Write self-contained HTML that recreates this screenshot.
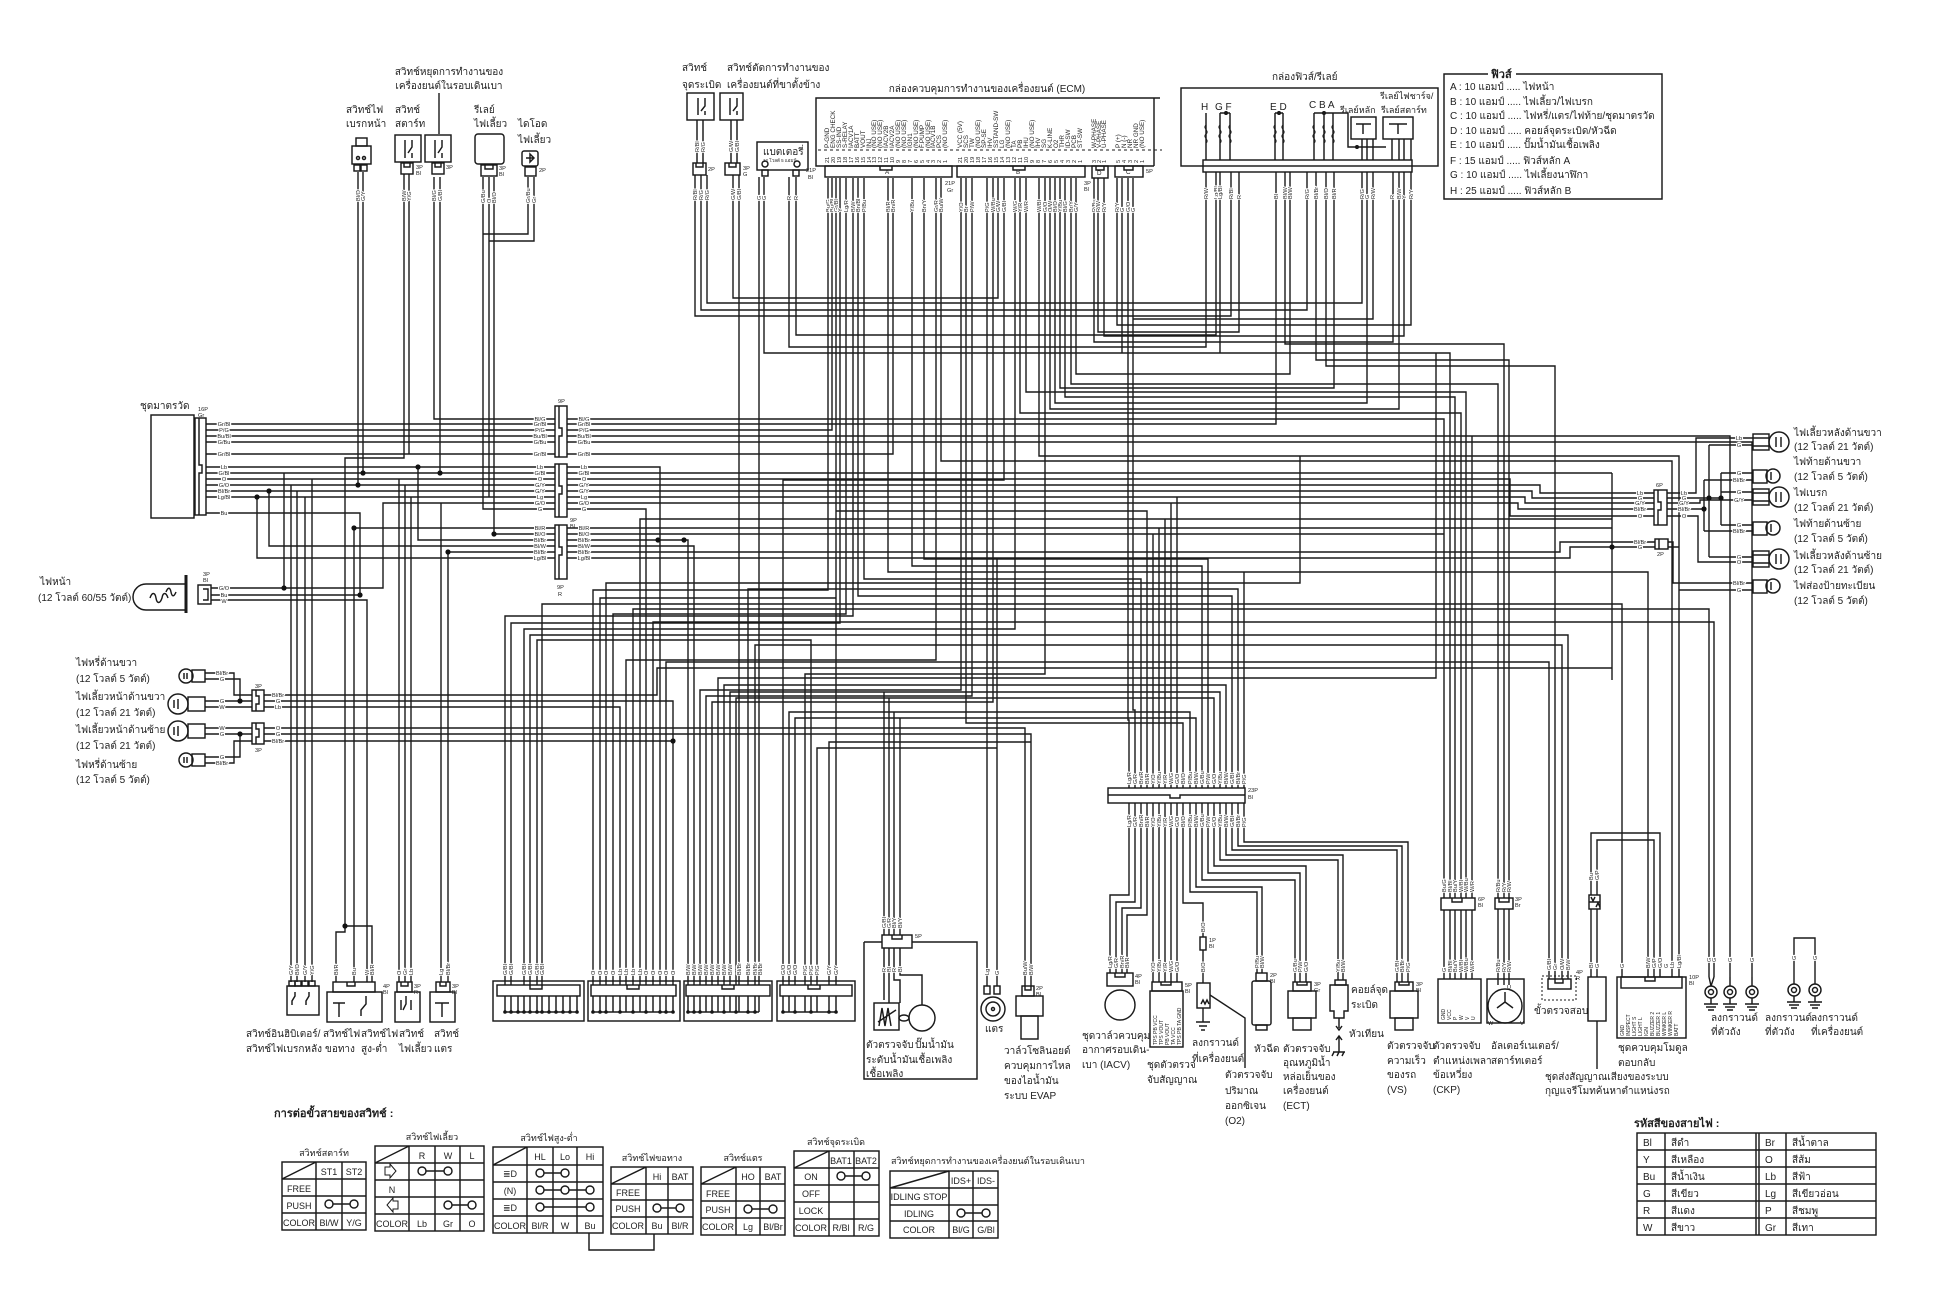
<!DOCTYPE html>
<html><head><meta charset="utf-8">
<style>
html,body{margin:0;padding:0;background:#fff;}
svg{display:block;}
text{font-family:"Liberation Sans","DejaVu Sans",sans-serif;fill:#1e1e1e;}
.t{font-size:10px}
.tb{font-size:11px;font-weight:bold}
.s{font-size:5.6px}
.m{font-size:6.3px}
.n{font-size:9px}
.h{paint-order:stroke;stroke:#fff;stroke-width:2.4px;stroke-linejoin:round}
.w{fill:none;stroke:#1a1a1a;stroke-width:1.4}
.c{fill:none;stroke:#1a1a1a;stroke-width:1.45}
</style></head><body>
<svg width="1946" height="1300" viewBox="0 0 1946 1300" xmlns="http://www.w3.org/2000/svg">
<rect width="1946" height="1300" fill="#fff"/>

<!-- ================= WIRES ================= -->
<path class="w" d="
M358,172V485 M363,172V473
M404,174V458H345V926H372V982 M345,926V932H336V982 M409,174V454
M434,177V419H555 M440,177V473
M483,177V509H555 M489,177V497H555 M494,177V534H555
M528,177V234H483 M534,177V241H489
M206,424H555 M206,430H555 M206,436H555 M206,442H555 M206,454H555
M206,467H555 M206,473H555 M206,479H555 M206,485H555 M206,491H555 M206,497H555
M206,513H360V595
M354,528H555 M418,467V540H555 M269,491V546H555 M448,552H555 M257,497V558H555
M211,588H383V503H555 M211,595H360 M211,600H367V982 M284,473V588
M291,485V982 M297,491V982 M305,497V982 M312,479V982 M354,528V982
M399,479V982 M405,485V982 M411,497V982 M441,503V982 M448,552V982
M264,695H657V668H1612 M264,701H673V985 M264,707H620V985 M264,728H1025V986 M264,734H1031V986 M264,741H673
M205,673H234V695H252 M205,679H240V701 M205,701H252 M205,707H252 M205,728H252 M205,734H252 M205,757H240V734 M205,763H234V741H252
M567,419H1444V898 M567,424H1276V172 M567,430H832V178 M567,436H1730V977 M567,442H1752V977 M567,454H893V178
M567,467H660V985 M567,473H1612 M567,479H1510V516H1630 M567,485H1540V493H1630 M567,491H1532V498H1630
M567,497H1525V503H1630 M567,503H1518V509H1630 M567,509H646V985
M567,528H1612 M567,534H1444 M567,540H688V985 M567,546H694V985 M567,552H1560V542H1630 M567,558H1570V547H1630
M828,178V590H593V985 M836,178V598H600V985 M840,178V623H511V985 M846,178V614H613V985 M853,178V616H505V985
M858,178V596H1232V788 M864,178V579H1141V788 M888,178V572H1648V977 M912,178V566H1202V788 M924,178V559H1208V788
M936,178V660H626V985 M941,178V461H1672V977 M961,178V690H700V985 M966,178V723H1183V788 M972,178V696H706V985
M987,178V986 M993,178V702H712V985 M998,178V298H733V175 M1004,178V480H783V985 M1015,178V629H524V985
M1020,178V413H1461V898 M1026,178V392H1466V898 M1039,178V456H1679V977 M1045,178V674H805V985
M1050,178V409H1399V172 M1055,178V403H1367V172 M1060,178V388H1334V172 M1065,178V397H1455V898
M1071,178V384H1498V898 M1076,178V374H1290V172 M1094,178V342H1393V172 M1098,178V332H1239V172
M1104,178V336H1404V172 M1117,178V325H1411V172 M1122,178V353H1450V898
M1128,178V720H1129V788 M1133,178V710H1135V788 M1133,319H1373V172
M695,175V316H1231V172 M701,175V310H1307V172 M707,175V303H1362V172
M739,175V985 M759,177V985 M764,177V353H1220V172 M789,177V347H1206V172 M796,177V335H1216V172
M1285,172V344H1504V898 M1316,172V360H1509V898 M1326,172V366H1555V979 M1472,436V898
M530,985V635H1568V979 M537,985V640H811V985 M542,985V604H1622V977 M606,985V583H1300V456
M633,985V609H1709V977 M640,985V519H1612 M653,985V622H1714V977 M666,985V662H1549V979
M718,985V678H1436V353 M724,985V685H1226V788 M730,985V692H1220V788 M736,985V698H1214V788
M748,985V589H1238V788 M755,985V645H1562V979 M789,985V712H1190V788 M795,985V718H1196V788
M817,985V748H997 M829,985V742H1031 M836,985V511H1147V788
M884,692V935 M889,698V935 M894,712V935 M900,718V935 M997,559V986
M1153,534V788 M1159,528V788 M1165,519V788 M1171,503V788 M1177,497V788 M1244,572V788
M1129,803V895H1110V973 M1135,803V902H1116V973 M1141,803V908H1122V973 M1147,803V915H1127V973
M1153,803V982 M1159,803V982 M1165,803V982 M1171,803V982 M1177,803V982
M1183,803V903H1203V937
M1190,803V892H1257V973 M1196,803V887H1262V973 M1202,803V880H1295V982 M1208,803V873H1300V982 M1214,803V866H1306V982
M1220,803V860H1338V980 M1226,803V855H1343V980 M1232,803V850H1397V982 M1238,803V846H1402V982 M1244,803V842H1408V982
M1612,473V680
M1630,493H1654 M1630,498H1654 M1630,503H1654 M1630,509H1654 M1630,516H1654 M1630,542H1655 M1630,547H1655
M1667,493H1696V438H1753 M1709,445V557 M1709,445H1753 M1709,557H1753
M1667,498H1721 M1721,473V525 M1721,473H1753 M1721,525H1753
M1667,503H1700V500H1753 M1721,492H1753
M1667,509H1704 M1704,480V531 M1704,480H1753 M1704,531H1753
M1667,516H1698V562H1753
M1668,542H1673V583H1753 M1668,547H1679V590H1753
M1591,895V833H1660V977 M1597,895V840H1654V977 M1591,909V977 M1597,909V977
M1444,910V979 M1450,910V979 M1455,910V979 M1461,910V979 M1466,910V979 M1472,910V979
M1498,909V985 M1504,909V985 M1509,909V985
M1794,962V938H1815V962 M1794,962V984 M1815,962V984
M1203,950V983 M1203,1008V1022 M1210,995L1245,1018V1068
M1597,1021V1069
"/>

<!-- dots -->
<g fill="#111">
<circle cx="358" cy="485" r="2.6"/><circle cx="363" cy="473" r="2.6"/><circle cx="440" cy="473" r="2.6"/>
<circle cx="418" cy="467" r="2.6"/><circle cx="269" cy="491" r="2.6"/><circle cx="257" cy="497" r="2.6"/>
<circle cx="354" cy="528" r="2.6"/><circle cx="494" cy="534" r="2.6"/><circle cx="448" cy="552" r="2.6"/>
<circle cx="284" cy="588" r="2.6"/><circle cx="360" cy="595" r="2.6"/><circle cx="345" cy="926" r="2.6"/>
<circle cx="240" cy="701" r="2.6"/><circle cx="240" cy="734" r="2.6"/><circle cx="673" cy="741" r="2.6"/>
<circle cx="1612" cy="547" r="2.6"/><circle cx="1709" cy="498" r="2.6"/><circle cx="1721" cy="498" r="2.6"/>
<circle cx="1704" cy="509" r="2.6"/><circle cx="658" cy="540" r="2.6"/><circle cx="684" cy="540" r="2.6"/>
<circle cx="1226" cy="113" r="2"/><circle cx="1279" cy="113" r="2"/><circle cx="1324" cy="113" r="2"/><circle cx="1357" cy="147" r="2"/>
</g>

<!-- ================= TOP LEFT COMPONENTS ================= -->
<text class="t" x="449" y="75" text-anchor="middle">สวิทช์หยุดการทำงานของ</text>
<text class="t" x="449" y="89" text-anchor="middle">เครื่องยนต์ในรอบเดินเบา</text>
<path class="w" d="M439,93V134"/>
<text class="t" x="346" y="113">สวิทช์ไฟ</text><text class="t" x="346" y="127">เบรกหน้า</text>
<text class="t" x="395" y="113">สวิทช์</text><text class="t" x="395" y="127">สตาร์ท</text>
<text class="t" x="474" y="113">รีเลย์</text><text class="t" x="474" y="127">ไฟเลี้ยว</text>
<text class="t" x="518" y="127">ไดโอด</text><text class="t" x="518" y="143">ไฟเลี้ยว</text>
<g class="c">
<rect x="356" y="138" width="11" height="8"/><rect x="352" y="146" width="19" height="18"/>
<rect x="354" y="165" width="6" height="6"/><rect x="361" y="165" width="6" height="6"/>
<circle cx="358" cy="158" r="1.5"/><circle cx="364" cy="158" r="1.5"/>
<rect x="395" y="135" width="26" height="27"/><path d="M405,140V158M412,140V147L408,153M412,153V158"/>
<rect x="401" y="163" width="12" height="11"/><path d="M404,163v4h6v-4"/>
<rect x="425" y="135" width="26" height="27"/><path d="M435,140V158M442,140V147L438,153M442,153V158"/>
<rect x="432" y="163" width="12" height="11"/><path d="M435,163v4h6v-4"/>
<rect x="475" y="134" width="29" height="30" rx="3"/>
<rect x="481" y="165" width="16" height="11"/><path d="M485,165v4h8v-4"/>
<rect x="522" y="151" width="16" height="15" rx="2"/><path d="M526,158h8M530,154l4,4l-4,4z"/>
<rect x="525" y="167" width="11" height="9"/>
</g>
<text class="s" x="416" y="169">3P</text><text class="s" x="416" y="175">Bl</text>
<text class="s" x="446" y="169">3P</text>
<text class="s" x="499" y="170">3P</text><text class="s" x="499" y="176">Bl</text>
<text class="s" x="539" y="172">2P</text>
<g class="s h">
<text transform="translate(360,201) rotate(-90)">Bl/O</text><text transform="translate(365,201) rotate(-90)">G/Y</text>
<text transform="translate(406,201) rotate(-90)">B/W</text><text transform="translate(411,201) rotate(-90)">Y/G</text>
<text transform="translate(436,201) rotate(-90)">Bl/G</text><text transform="translate(442,201) rotate(-90)">G/Bl</text>
<text transform="translate(485,203) rotate(-90)">G/Bu</text><text transform="translate(491,203) rotate(-90)">O</text><text transform="translate(496,203) rotate(-90)">Bl/O</text>
<text transform="translate(530,203) rotate(-90)">Gr/Bu</text><text transform="translate(536,203) rotate(-90)">Gr</text>
</g>

<!-- instrument cluster -->
<text class="t" x="140" y="409">ชุดมาตรวัด</text>
<text class="s" x="198" y="411">16P</text><text class="s" x="198" y="417">Gr</text>
<g class="c"><rect x="151" y="415" width="43" height="103"/><rect x="195" y="418" width="11" height="97"/><path d="M199,418V465h3v8h-3v42"/></g>
<g class="s h" text-anchor="middle">
<text x="224" y="426">Gr/Bl</text><text x="224" y="432">P/G</text><text x="224" y="438">Bu/Bl</text><text x="224" y="444">G/Bu</text><text x="224" y="456">Gr/Bl</text>
<text x="224" y="469">Lb</text><text x="224" y="475">G/Bl</text><text x="224" y="481">O</text><text x="224" y="487">G/O</text><text x="224" y="493">Bl/Br</text><text x="224" y="499">Lg/Bl</text><text x="224" y="515">Bu</text>
</g>

<!-- 9P connectors -->
<g class="c">
<rect x="555" y="406" width="12" height="51"/><path d="M559,406V428h3v8h-3v21"/>
<rect x="555" y="464" width="12" height="53"/><path d="M559,464V486h3v8h-3v23"/>
<rect x="555" y="525" width="12" height="54"/><path d="M559,525V547h3v8h-3v24"/>
</g>
<text class="s" x="558" y="403">9P</text><text class="s" x="570" y="522">9P</text><text class="s" x="570" y="528">Bl</text>
<text class="s" x="557" y="589">9P</text><text class="s" x="558" y="596">R</text>
<g class="s h" text-anchor="middle">
<text x="540" y="421">Bl/G</text><text x="540" y="426">Gr/Bl</text><text x="540" y="432">P/G</text><text x="540" y="438">Bu/Bl</text><text x="540" y="444">G/Bu</text><text x="540" y="456">Gr/Bl</text>
<text x="540" y="469">Lb</text><text x="540" y="475">G/Bl</text><text x="540" y="481">O</text><text x="540" y="487">G/Y</text><text x="540" y="493">G/Y</text><text x="540" y="499">Lg</text><text x="540" y="505">G/O</text><text x="540" y="511">G</text>
<text x="540" y="530">Bl/R</text><text x="540" y="536">Bl/O</text><text x="540" y="542">Bl/Br</text><text x="540" y="548">Bl/W</text><text x="540" y="554">Bl/Br</text><text x="540" y="560">Lg/Bl</text>
<text x="584" y="421">Bl/G</text><text x="584" y="426">Gr/Bl</text><text x="584" y="432">P/G</text><text x="584" y="438">Bu/Bl</text><text x="584" y="444">G/Bu</text><text x="584" y="456">Gr/Bl</text>
<text x="584" y="469">Lb</text><text x="584" y="475">G/Bl</text><text x="584" y="481">O</text><text x="584" y="487">G/Y</text><text x="584" y="493">G/Y</text><text x="584" y="499">Lg</text><text x="584" y="505">G/O</text><text x="584" y="511">G</text>
<text x="584" y="530">Bl/R</text><text x="584" y="536">Bl/O</text><text x="584" y="542">Bl/Br</text><text x="584" y="548">Bl/W</text><text x="584" y="554">Bl/Br</text><text x="584" y="560">Lg/Bl</text>
</g>

<!-- headlight -->
<text class="t" x="40" y="585">ไฟหน้า</text>
<text class="t" x="38" y="601">(12 โวลต์ 60/55 วัตต์)</text>
<g class="c">
<path d="M186,584H146a13,13 0 0 0 0,26H186" />
<path d="M150,598c2,-6 5,-6 6,0c1,6 4,6 6,0c1,-6 4,-6 6,0M166,592c2,-5 4,-5 5,0c1,5 3,5 5,0"/>
<path d="M186,575V613" stroke-width="3"/>
<rect x="198" y="585" width="13" height="19"/><path d="M203,589h5v11h-5"/>
</g>
<text class="s" x="203" y="576">3P</text><text class="s" x="203" y="582">Bl</text>
<g class="s h" text-anchor="middle"><text x="224" y="590">G/O</text><text x="224" y="597">Bu</text><text x="224" y="603">W</text></g>

<!-- front turn / position lights -->
<text class="t" x="76" y="666">ไฟหรี่ด้านขวา</text><text class="t" x="76" y="682">(12 โวลต์ 5 วัตต์)</text>
<text class="t" x="76" y="700">ไฟเลี้ยวหน้าด้านขวา</text><text class="t" x="76" y="716">(12 โวลต์ 21 วัตต์)</text>
<text class="t" x="76" y="733">ไฟเลี้ยวหน้าด้านซ้าย</text><text class="t" x="76" y="749">(12 โวลต์ 21 วัตต์)</text>
<text class="t" x="76" y="768">ไฟหรี่ด้านซ้าย</text><text class="t" x="76" y="783">(12 โวลต์ 5 วัตต์)</text>
<g class="c">
<circle cx="186" cy="676" r="7"/><rect x="192" y="670" width="13" height="12"/><path d="M184,673v6M187,673v6"/>
<circle cx="178" cy="704" r="10"/><rect x="188" y="697" width="17" height="14"/><path d="M174,700v8M178,699v10"/>
<circle cx="178" cy="731" r="10"/><rect x="188" y="724" width="17" height="14"/><path d="M174,727v8M178,726v10"/>
<circle cx="186" cy="760" r="7"/><rect x="192" y="754" width="13" height="12"/><path d="M184,757v6M187,757v6"/>
<rect x="252" y="690" width="12" height="21"/><path d="M256,690v6h3v8h-3v7"/>
<rect x="252" y="723" width="12" height="21"/><path d="M256,723v6h3v8h-3v7"/>
</g>
<text class="s" x="255" y="688">3P</text><text class="s" x="255" y="752">3P</text>
<g class="s h" text-anchor="middle">
<text x="222" y="675">Bl/Br</text><text x="222" y="681">G</text><text x="222" y="703">G</text><text x="222" y="709">W</text>
<text x="222" y="730">W</text><text x="222" y="736">G</text><text x="222" y="759">G</text><text x="222" y="765">Bl/Br</text>
<text x="278" y="697">Bl/Br</text><text x="278" y="703">G</text><text x="278" y="709">Lb</text>
<text x="278" y="730">O</text><text x="278" y="736">G</text><text x="278" y="743">Bl/Br</text>
</g>

<!-- ================= ECM AREA ================= -->
<text class="t" x="682" y="71">สวิทช์</text><text class="t" x="682" y="88">จุดระเบิด</text>
<text class="t" x="727" y="71">สวิทช์ตัดการทำงานของ</text><text class="t" x="727" y="88">เครื่องยนต์ที่ขาตั้งข้าง</text>
<g class="c">
<rect x="687" y="93" width="27" height="27"/><path d="M698,98V115M705,98V106L701,111M705,111V115"/>
<path d="M697,120V163M703,120V163"/>
<rect x="693" y="163" width="13" height="12"/><path d="M696,163v4h7v-4"/>
<rect x="720" y="93" width="23" height="27"/><path d="M730,98V115M737,98V106L733,111M737,111V115"/>
<path d="M731,120V163M737,120V163"/>
<rect x="725" y="163" width="15" height="12"/><path d="M729,163v4h7v-4"/>
<rect x="757" y="142" width="51" height="28"/>
<rect x="762" y="170" width="6" height="6"/><rect x="793" y="170" width="6" height="6"/>
<circle cx="765" cy="164" r="3"/><circle cx="797" cy="164" r="3"/>
</g>
<text class="s" x="708" y="171">2P</text><text class="s" x="743" y="170">3P</text><text class="s" x="743" y="176">G</text>
<text x="763" y="155" style="font-size:10px">แบตเตอรี่</text>
<text x="763" y="162" style="font-size:4.5px">12 โวลต์ 5 แอมป์</text>
<g class="s h">
<text transform="translate(699,152) rotate(-90)">R/Bl</text><text transform="translate(705,152) rotate(-90)">R/G</text>
<text transform="translate(733,152) rotate(-90)">G/W</text><text transform="translate(739,152) rotate(-90)">G/Bl</text>
<text transform="translate(697,200) rotate(-90)">R/Bl</text><text transform="translate(703,200) rotate(-90)">R/G</text><text transform="translate(709,200) rotate(-90)">R/G</text>
<text transform="translate(735,200) rotate(-90)">G/W</text><text transform="translate(741,200) rotate(-90)">G/Bl</text>
<text transform="translate(761,200) rotate(-90)">G</text><text transform="translate(766,200) rotate(-90)">G</text>
<text transform="translate(791,200) rotate(-90)">R</text><text transform="translate(798,200) rotate(-90)">R</text>
</g>

<text class="t" x="987" y="92" text-anchor="middle">กล่องควบคุมการทำงานของเครื่องยนต์ (ECM)</text>
<g class="c">
<path d="M1160,98H816V166H1154"/><path d="M1154,98V166" />
<path d="M818,150H1162" stroke-dasharray="3,3" stroke-width="1"/>
<rect x="825" y="166" width="127" height="11"/><path d="M880,166v4h12v-4"/>
<rect x="957" y="166" width="128" height="11"/><path d="M1013,166v4h12v-4"/>
<rect x="1092" y="166" width="16" height="12"/><path d="M1096,166v4h8v-4"/>
<rect x="1115" y="166" width="28" height="11"/><path d="M1124,166v4h9v-4"/>
</g>
<text class="s" x="806" y="172">21P</text><text class="s" x="808" y="179">Bl</text>
<text class="s" x="945" y="185">21P</text><text class="s" x="947" y="192">Gr</text>
<text class="s" x="1084" y="185">3P</text><text class="s" x="1084" y="191">Bl</text>
<text class="s" x="1146" y="173">5P</text>
<text class="m" x="885" y="174">A</text><text class="m" x="1016" y="174">B</text><text class="m" x="1097" y="175">D</text><text class="m" x="1126" y="174">C</text>

<!-- ECM pin names -->
<g class="m">
<text transform="translate(829,148) rotate(-90)">P-GND</text>
<text transform="translate(835,148) rotate(-90)">ENG CHECK</text>
<text transform="translate(841,148) rotate(-90)">SS-IND</text>
<text transform="translate(847,148) rotate(-90)">S-RELAY</text>
<text transform="translate(853,148) rotate(-90)">IACV1A</text>
<text transform="translate(859,148) rotate(-90)">BATT</text>
<text transform="translate(865,148) rotate(-90)">VOUT</text>
<text transform="translate(871,148) rotate(-90)">INJ</text>
<text transform="translate(876,148) rotate(-90)">(NO USE)</text>
<text transform="translate(882,148) rotate(-90)">(NO USE)</text>
<text transform="translate(888,148) rotate(-90)">IACV2B</text>
<text transform="translate(894,148) rotate(-90)">IACV2A</text>
<text transform="translate(900,148) rotate(-90)">(NO USE)</text>
<text transform="translate(906,148) rotate(-90)">(NO USE)</text>
<text transform="translate(912,148) rotate(-90)">IGN1</text>
<text transform="translate(918,148) rotate(-90)">(NO USE)</text>
<text transform="translate(924,148) rotate(-90)">F.PUMP</text>
<text transform="translate(930,148) rotate(-90)">(NO USE)</text>
<text transform="translate(935,148) rotate(-90)">IACV1B</text>
<text transform="translate(941,148) rotate(-90)">PCS</text>
<text transform="translate(947,148) rotate(-90)">(NO USE)</text>
<text transform="translate(962,148) rotate(-90)">VCC (5V)</text>
<text transform="translate(968,148) rotate(-90)">SCS</text>
<text transform="translate(974,148) rotate(-90)">TW</text>
<text transform="translate(980,148) rotate(-90)">(NO USE)</text>
<text transform="translate(986,148) rotate(-90)">SP-SE</text>
<text transform="translate(992,148) rotate(-90)">IHV</text>
<text transform="translate(998,148) rotate(-90)">SSTAND-SW</text>
<text transform="translate(1004,148) rotate(-90)">LG</text>
<text transform="translate(1010,148) rotate(-90)">(NO USE)</text>
<text transform="translate(1016,148) rotate(-90)">TA</text>
<text transform="translate(1022,148) rotate(-90)">PB</text>
<text transform="translate(1028,148) rotate(-90)">IHU</text>
<text transform="translate(1034,148) rotate(-90)">(NO USE)</text>
<text transform="translate(1040,148) rotate(-90)">IHV</text>
<text transform="translate(1046,148) rotate(-90)">SG</text>
<text transform="translate(1052,148) rotate(-90)">K-LINE</text>
<text transform="translate(1058,148) rotate(-90)">O2</text>
<text transform="translate(1064,148) rotate(-90)">THR</text>
<text transform="translate(1070,148) rotate(-90)">ID-SW</text>
<text transform="translate(1076,148) rotate(-90)">PCB</text>
<text transform="translate(1082,148) rotate(-90)">ST-SW</text>
<text transform="translate(1096,148) rotate(-90)">W-PHASE</text>
<text transform="translate(1101,148) rotate(-90)">V-PHASE</text>
<text transform="translate(1106,148) rotate(-90)">U-PHASE</text>
<text transform="translate(1120,148) rotate(-90)">P (+)</text>
<text transform="translate(1126,148) rotate(-90)">N (-)</text>
<text transform="translate(1132,148) rotate(-90)">NR</text>
<text transform="translate(1138,148) rotate(-90)">NR GND</text>
<text transform="translate(1144,148) rotate(-90)">(NO USE)</text>
</g>
<g class="s">
<text transform="translate(829,163) rotate(-90)">21</text><text transform="translate(835,163) rotate(-90)">20</text><text transform="translate(841,163) rotate(-90)">19</text><text transform="translate(847,163) rotate(-90)">18</text><text transform="translate(853,163) rotate(-90)">17</text><text transform="translate(859,163) rotate(-90)">16</text><text transform="translate(865,163) rotate(-90)">15</text><text transform="translate(871,163) rotate(-90)">14</text><text transform="translate(876,163) rotate(-90)">13</text><text transform="translate(882,163) rotate(-90)">12</text><text transform="translate(888,163) rotate(-90)">11</text><text transform="translate(894,163) rotate(-90)">10</text><text transform="translate(900,163) rotate(-90)">9</text><text transform="translate(906,163) rotate(-90)">8</text><text transform="translate(912,163) rotate(-90)">7</text><text transform="translate(918,163) rotate(-90)">6</text><text transform="translate(924,163) rotate(-90)">5</text><text transform="translate(930,163) rotate(-90)">4</text><text transform="translate(935,163) rotate(-90)">3</text><text transform="translate(941,163) rotate(-90)">2</text><text transform="translate(947,163) rotate(-90)">1</text>
<text transform="translate(962,163) rotate(-90)">21</text><text transform="translate(968,163) rotate(-90)">20</text><text transform="translate(974,163) rotate(-90)">19</text><text transform="translate(980,163) rotate(-90)">18</text><text transform="translate(986,163) rotate(-90)">17</text><text transform="translate(992,163) rotate(-90)">16</text><text transform="translate(998,163) rotate(-90)">15</text><text transform="translate(1004,163) rotate(-90)">14</text><text transform="translate(1010,163) rotate(-90)">13</text><text transform="translate(1016,163) rotate(-90)">12</text><text transform="translate(1022,163) rotate(-90)">11</text><text transform="translate(1028,163) rotate(-90)">10</text><text transform="translate(1034,163) rotate(-90)">9</text><text transform="translate(1040,163) rotate(-90)">8</text><text transform="translate(1046,163) rotate(-90)">7</text><text transform="translate(1052,163) rotate(-90)">6</text><text transform="translate(1058,163) rotate(-90)">5</text><text transform="translate(1064,163) rotate(-90)">4</text><text transform="translate(1070,163) rotate(-90)">3</text><text transform="translate(1076,163) rotate(-90)">2</text><text transform="translate(1082,163) rotate(-90)">1</text>
<text transform="translate(1096,163) rotate(-90)">3</text><text transform="translate(1101,163) rotate(-90)">2</text><text transform="translate(1106,163) rotate(-90)">1</text>
<text transform="translate(1120,163) rotate(-90)">5</text><text transform="translate(1126,163) rotate(-90)">4</text><text transform="translate(1132,163) rotate(-90)">3</text><text transform="translate(1138,163) rotate(-90)">2</text><text transform="translate(1144,163) rotate(-90)">1</text>
</g>
<!-- ECM wire labels -->
<g class="s h">
<text transform="translate(830,212) rotate(-90)">Bu/G</text><text transform="translate(834,212) rotate(-90)">Bu/Bl</text><text transform="translate(838,212) rotate(-90)">Gr/Bl</text><text transform="translate(842,212) rotate(-90)">Y</text><text transform="translate(848,212) rotate(-90)">Lg/R</text><text transform="translate(855,212) rotate(-90)">B/W</text><text transform="translate(860,212) rotate(-90)">Bn/Bl</text><text transform="translate(866,212) rotate(-90)">P/Bu</text>
<text transform="translate(890,212) rotate(-90)">Bl/R</text><text transform="translate(895,212) rotate(-90)">Bn/R</text><text transform="translate(914,212) rotate(-90)">Y/Bu</text><text transform="translate(926,212) rotate(-90)">Bn/Y</text><text transform="translate(938,212) rotate(-90)">Gr/R</text><text transform="translate(943,212) rotate(-90)">Bu/W</text>
<text transform="translate(963,212) rotate(-90)">Y/O</text><text transform="translate(968,212) rotate(-90)">Br</text><text transform="translate(974,212) rotate(-90)">P/W</text>
<text transform="translate(989,212) rotate(-90)">P/G</text><text transform="translate(995,212) rotate(-90)">W/Bu</text><text transform="translate(1000,212) rotate(-90)">G/W</text><text transform="translate(1006,212) rotate(-90)">G/Bl</text>
<text transform="translate(1017,212) rotate(-90)">W/G</text><text transform="translate(1022,212) rotate(-90)">Y/R</text><text transform="translate(1028,212) rotate(-90)">W/R</text>
<text transform="translate(1041,212) rotate(-90)">W/Bl</text><text transform="translate(1047,212) rotate(-90)">G/O</text><text transform="translate(1052,212) rotate(-90)">O/W</text><text transform="translate(1057,212) rotate(-90)">Bl/O</text><text transform="translate(1062,212) rotate(-90)">Y/Bu</text><text transform="translate(1067,212) rotate(-90)">Bl/G</text><text transform="translate(1073,212) rotate(-90)">Br/Y</text><text transform="translate(1078,212) rotate(-90)">G/Y</text>
<text transform="translate(1096,212) rotate(-90)">R/Bu</text><text transform="translate(1100,212) rotate(-90)">R/W</text><text transform="translate(1106,212) rotate(-90)">R/Y</text>
<text transform="translate(1119,212) rotate(-90)">R/Y</text><text transform="translate(1124,212) rotate(-90)">G</text><text transform="translate(1130,212) rotate(-90)">G/O</text><text transform="translate(1135,212) rotate(-90)">G</text>
</g>

<!-- ================= FUSE BOX ================= -->
<text class="t" x="1272" y="80">กล่องฟิวส์/รีเลย์</text>
<g class="c">
<rect x="1181" y="88" width="257" height="78"/>
<rect x="1203" y="160" width="209" height="12"/>
<path d="M1206,113V160M1220,113V160M1230,113V160M1220,113H1230M1275,113V160M1283,113V160M1275,113H1283M1314,113V160M1324,113V160M1333,113V160M1314,113H1348V147H1386M1362,139V160M1367,139V160M1373,139V160M1392,139V160M1399,139V160M1404,139V160M1411,139V160"/>
<rect x="1351" y="117" width="25" height="22"/><rect x="1383" y="117" width="30" height="22"/>
<path d="M1356,124h15M1363,124v10M1389,124h18M1398,124v10"/>
</g>
<path d="M1206,125c-4,3 4,6 0,9c-4,3 4,6 0,9M1220,125c-4,3 4,6 0,9c-4,3 4,6 0,9M1230,125c-4,3 4,6 0,9c-4,3 4,6 0,9M1275,125c-4,3 4,6 0,9c-4,3 4,6 0,9M1283,125c-4,3 4,6 0,9c-4,3 4,6 0,9M1314,125c-4,3 4,6 0,9c-4,3 4,6 0,9M1324,125c-4,3 4,6 0,9c-4,3 4,6 0,9M1333,125c-4,3 4,6 0,9c-4,3 4,6 0,9" fill="none" stroke="#1c1c1c" stroke-width="1"/>
<text class="t" x="1201" y="110">H</text><text class="t" x="1215" y="110">G F</text>
<text class="t" x="1270" y="110">E D</text><text class="t" x="1309" y="108">C B A</text>
<text class="n" x="1380" y="99">รีเลย์ไฟชาร์จ/</text>
<text class="n" x="1340" y="113">รีเลย์หลัก</text><text class="n" x="1381" y="113">รีเลย์สตาร์ท</text>
<g class="s h">
<text transform="translate(1208,199) rotate(-90)">R/W</text><text transform="translate(1218,199) rotate(-90)">Lg/Bl</text><text transform="translate(1222,199) rotate(-90)">Lg/Bl</text><text transform="translate(1233,199) rotate(-90)">R/Bl</text><text transform="translate(1241,199) rotate(-90)">R</text>
<text transform="translate(1278,199) rotate(-90)">Bl</text><text transform="translate(1287,199) rotate(-90)">Bl/W</text><text transform="translate(1292,199) rotate(-90)">Bl/W</text>
<text transform="translate(1309,199) rotate(-90)">R/G</text><text transform="translate(1318,199) rotate(-90)">Bl/Br</text><text transform="translate(1328,199) rotate(-90)">Bl/O</text><text transform="translate(1336,199) rotate(-90)">Bl/R</text>
<text transform="translate(1364,199) rotate(-90)">R/G</text><text transform="translate(1369,199) rotate(-90)">G</text><text transform="translate(1375,199) rotate(-90)">R/W</text>
<text transform="translate(1394,199) rotate(-90)">R</text><text transform="translate(1401,199) rotate(-90)">B/W</text><text transform="translate(1406,199) rotate(-90)">Y</text><text transform="translate(1413,199) rotate(-90)">R/Y</text>
</g>

<!-- fuse legend -->
<path class="c" d="M1488,74H1444V199H1662V74H1516" stroke-width="1.1"/>
<text class="tb" x="1491" y="78">ฟิวส์</text>
<g class="t">
<text x="1450" y="90">A : 10 แอมป์ ..... ไฟหน้า</text>
<text x="1450" y="105">B : 10 แอมป์ ..... ไฟเลี้ยว/ไฟเบรก</text>
<text x="1450" y="119">C : 10 แอมป์ ..... ไฟหรี่/แตร/ไฟท้าย/ชุดมาตรวัด</text>
<text x="1450" y="134">D : 10 แอมป์ ..... คอยล์จุดระเบิด/หัวฉีด</text>
<text x="1450" y="148">E : 10 แอมป์ ..... ปั๊มน้ำมันเชื้อเพลิง</text>
<text x="1450" y="164">F : 15 แอมป์ ..... ฟิวส์หลัก A</text>
<text x="1450" y="178">G : 10 แอมป์ ..... ไฟเลี้ยงนาฬิกา</text>
<text x="1450" y="194">H : 25 แอมป์ ..... ฟิวส์หลัก B</text>
</g>

<!-- ================= REAR LIGHTS ================= -->
<g class="c">
<rect x="1654" y="490" width="13" height="35"/><path d="M1658,490v12h3v8h-3v15"/>
<rect x="1655" y="539" width="13" height="10"/><path d="M1659,539v10"/>
<rect x="1753" y="434" width="16" height="16"/><circle cx="1779" cy="442" r="10"/><path d="M1753,438h16M1753,446h16M1776,437v10M1781,437v10"/>
<rect x="1753" y="470" width="14" height="13"/><circle cx="1773" cy="476" r="7"/><path d="M1771,472v8"/>
<rect x="1753" y="489" width="16" height="16"/><circle cx="1779" cy="497" r="10"/><path d="M1753,493h16M1753,501h16M1776,492v10M1781,492v10"/>
<rect x="1753" y="522" width="14" height="13"/><circle cx="1773" cy="528" r="7"/><path d="M1771,524v8"/>
<rect x="1753" y="551" width="16" height="16"/><circle cx="1779" cy="559" r="10"/><path d="M1753,555h16M1753,563h16M1776,554v10M1781,554v10"/>
<rect x="1753" y="580" width="14" height="13"/><circle cx="1773" cy="586" r="7"/><path d="M1771,582v8"/>
</g>
<text class="s" x="1656" y="487">6P</text><text class="s" x="1657" y="556">2P</text>
<g class="s h" text-anchor="middle">
<text x="1640" y="495">Lb</text><text x="1640" y="500">G</text><text x="1640" y="505">G/Y</text><text x="1640" y="511">Bl/Br</text><text x="1640" y="518">O</text>
<text x="1640" y="544">Bl/Br</text><text x="1640" y="549">G</text>
<text x="1684" y="495">Lb</text><text x="1684" y="500">G</text><text x="1684" y="505">G/Y</text><text x="1684" y="511">Bl/Br</text><text x="1684" y="518">O</text>
<text x="1739" y="440">Lb</text><text x="1739" y="447">G</text><text x="1739" y="475">G</text><text x="1739" y="482">Bl/Br</text>
<text x="1739" y="494">G</text><text x="1739" y="502">G/Y</text><text x="1739" y="527">G</text><text x="1739" y="533">Bl/Br</text>
<text x="1739" y="559">G</text><text x="1739" y="564">O</text><text x="1739" y="585">Bl/Br</text><text x="1739" y="592">G</text>
</g>
<g class="t">
<text x="1794" y="436">ไฟเลี้ยวหลังด้านขวา</text><text x="1794" y="450">(12 โวลต์ 21 วัตต์)</text>
<text x="1794" y="465">ไฟท้ายด้านขวา</text><text x="1794" y="480">(12 โวลต์ 5 วัตต์)</text>
<text x="1794" y="496">ไฟเบรก</text><text x="1794" y="511">(12 โวลต์ 21 วัตต์)</text>
<text x="1794" y="527">ไฟท้ายด้านซ้าย</text><text x="1794" y="542">(12 โวลต์ 5 วัตต์)</text>
<text x="1794" y="559">ไฟเลี้ยวหลังด้านซ้าย</text><text x="1794" y="573">(12 โวลต์ 21 วัตต์)</text>
<text x="1794" y="589">ไฟส่องป้ายทะเบียน</text><text x="1794" y="604">(12 โวลต์ 5 วัตต์)</text>
</g>

<!-- ================= 23P ================= -->
<g class="c"><rect x="1108" y="788" width="137" height="15"/><path d="M1108,795H1170v3h10v-3H1245"/></g>
<text class="s" x="1248" y="792">23P</text><text class="s" x="1248" y="799">Bl</text>
<g class="s h">
<text transform="translate(1131,784) rotate(-90)">Lg/R</text><text transform="translate(1137,784) rotate(-90)">G/R</text><text transform="translate(1143,784) rotate(-90)">Bn/R</text><text transform="translate(1149,784) rotate(-90)">Bl/R</text><text transform="translate(1155,784) rotate(-90)">Y/O</text><text transform="translate(1161,784) rotate(-90)">Y/Bu</text><text transform="translate(1167,784) rotate(-90)">Y/R</text><text transform="translate(1173,784) rotate(-90)">W/G</text><text transform="translate(1179,784) rotate(-90)">G/O</text><text transform="translate(1185,784) rotate(-90)">Bl/O</text><text transform="translate(1192,784) rotate(-90)">P/Bu</text><text transform="translate(1198,784) rotate(-90)">Bl/W</text><text transform="translate(1204,784) rotate(-90)">G/Bu</text><text transform="translate(1210,784) rotate(-90)">P/W</text><text transform="translate(1216,784) rotate(-90)">G/O</text><text transform="translate(1222,784) rotate(-90)">Y/Bu</text><text transform="translate(1228,784) rotate(-90)">Bl/W</text><text transform="translate(1234,784) rotate(-90)">G/Bl</text><text transform="translate(1240,784) rotate(-90)">Bl/Br</text><text transform="translate(1246,784) rotate(-90)">P/G</text>
<text transform="translate(1131,827) rotate(-90)">Lg/R</text><text transform="translate(1137,827) rotate(-90)">G/R</text><text transform="translate(1143,827) rotate(-90)">Bn/R</text><text transform="translate(1149,827) rotate(-90)">Bl/R</text><text transform="translate(1155,827) rotate(-90)">Y/O</text><text transform="translate(1161,827) rotate(-90)">Y/Bu</text><text transform="translate(1167,827) rotate(-90)">Y/R</text><text transform="translate(1173,827) rotate(-90)">W/G</text><text transform="translate(1179,827) rotate(-90)">G/O</text><text transform="translate(1185,827) rotate(-90)">Bl/O</text><text transform="translate(1192,827) rotate(-90)">P/Bu</text><text transform="translate(1198,827) rotate(-90)">Bl/W</text><text transform="translate(1204,827) rotate(-90)">G/Bu</text><text transform="translate(1210,827) rotate(-90)">P/W</text><text transform="translate(1216,827) rotate(-90)">G/O</text><text transform="translate(1222,827) rotate(-90)">Y/Bu</text><text transform="translate(1228,827) rotate(-90)">Bl/W</text><text transform="translate(1234,827) rotate(-90)">G/Bl</text><text transform="translate(1240,827) rotate(-90)">Bl/Br</text><text transform="translate(1246,827) rotate(-90)">P/G</text>
</g>

<!-- ================= BOTTOM LEFT SWITCHES ================= -->
<g class="c">
<rect x="289" y="981" width="6" height="5"/><rect x="295" y="981" width="6" height="5"/><rect x="302" y="981" width="6" height="5"/><rect x="309" y="981" width="6" height="5"/>
<rect x="287" y="986" width="32" height="29"/><path d="M295,992v4l-3,5v4M309,992v4l-3,5v4"/>
<rect x="333" y="982" width="42" height="10"/><path d="M347,982v4h8v-4"/>
<rect x="327" y="992" width="55" height="30"/><path d="M333,1003h12M339,1003v14M366,996v8l-5,6v6"/>
<rect x="397" y="982" width="15" height="10"/><path d="M401,982v4h7v-4"/>
<rect x="395" y="992" width="25" height="30"/><path d="M401,1000v10M406,996v8l-3,6M411,1000v10"/>
<rect x="436" y="982" width="14" height="10"/><path d="M440,982v4h6v-4"/>
<rect x="430" y="992" width="25" height="30"/><path d="M435,1003h14M442,1003v14"/>
</g>
<text class="s" x="383" y="988">4P</text><text class="s" x="383" y="994">Bl</text>
<text class="s" x="414" y="988">3P</text><text class="s" x="414" y="994">R</text>
<text class="s" x="452" y="988">3P</text><text class="s" x="452" y="994">Bl</text>
<g class="s h">
<text transform="translate(293,975) rotate(-90)">G/Y</text><text transform="translate(299,975) rotate(-90)">Bl/O</text><text transform="translate(307,975) rotate(-90)">G/Y</text><text transform="translate(314,975) rotate(-90)">Y/G</text>
<text transform="translate(338,975) rotate(-90)">Bl/R</text><text transform="translate(356,975) rotate(-90)">Bu</text><text transform="translate(369,975) rotate(-90)">W</text><text transform="translate(374,975) rotate(-90)">Bl/R</text>
<text transform="translate(401,975) rotate(-90)">O</text><text transform="translate(407,975) rotate(-90)">Gr</text><text transform="translate(413,975) rotate(-90)">Lb</text>
<text transform="translate(443,975) rotate(-90)">Lg</text><text transform="translate(450,975) rotate(-90)">Bl/Br</text>
</g>
<g class="t">
<text x="246" y="1037">สวิทช์อินฮิบิเตอร์/</text><text x="246" y="1052">สวิทช์ไฟเบรกหลัง</text>
<text x="323" y="1037">สวิทช์ไฟ</text><text x="325" y="1052">ขอทาง</text>
<text x="361" y="1037">สวิทช์ไฟ</text><text x="361" y="1052">สูง-ต่ำ</text>
<text x="399" y="1037">สวิทช์</text><text x="399" y="1052">ไฟเลี้ยว</text>
<text x="434" y="1037">สวิทช์</text><text x="434" y="1052">แตร</text>
</g>

<!-- joint connectors -->
<g class="c">
<rect x="493" y="981" width="91" height="40"/><rect x="497" y="985" width="83" height="11"/><path d="M530,985v4h12v-4"/>
<path d="M505,996v16M511,996v16M518,996v16M524,996v16M530,996v16M537,996v16M542,996v16M549,996v16M556,996v16M563,996v16M570,996v16M577,996v16"/>
<rect x="588" y="981" width="92" height="40"/><rect x="591" y="985" width="85" height="11"/><path d="M627,985v4h12v-4"/>
<path d="M593,996v16M600,996v16M606,996v16M613,996v16M620,996v16M626,996v16M633,996v16M640,996v16M646,996v16M653,996v16M660,996v16M666,996v16M673,996v16"/>
<rect x="684" y="981" width="88" height="40"/><rect x="686" y="985" width="84" height="11"/><path d="M722,985v4h12v-4"/>
<path d="M688,996v16M694,996v16M700,996v16M706,996v16M712,996v16M718,996v16M724,996v16M730,996v16M736,996v16M739,996v16M748,996v16M755,996v16M759,996v16"/>
<rect x="777" y="981" width="78" height="40"/><rect x="780" y="985" width="72" height="11"/><path d="M808,985v4h12v-4"/>
<path d="M783,996v16M789,996v16M795,996v16M805,996v16M811,996v16M817,996v16M829,996v16M836,996v16"/>
</g>
<g fill="#111">
<circle cx="505" cy="1012" r="1.8"/><circle cx="511" cy="1012" r="1.8"/><circle cx="518" cy="1012" r="1.8"/><circle cx="524" cy="1012" r="1.8"/><circle cx="530" cy="1012" r="1.8"/><circle cx="537" cy="1012" r="1.8"/><circle cx="542" cy="1012" r="1.8"/><circle cx="549" cy="1012" r="1.8"/><circle cx="556" cy="1012" r="1.8"/><circle cx="563" cy="1012" r="1.8"/><circle cx="570" cy="1012" r="1.8"/><circle cx="577" cy="1012" r="1.8"/>
<circle cx="593" cy="1012" r="1.8"/><circle cx="600" cy="1012" r="1.8"/><circle cx="606" cy="1012" r="1.8"/><circle cx="620" cy="1012" r="1.8"/><circle cx="633" cy="1012" r="1.8"/><circle cx="646" cy="1012" r="1.8"/><circle cx="660" cy="1012" r="1.8"/><circle cx="666" cy="1012" r="1.8"/><circle cx="673" cy="1012" r="1.8"/>
<circle cx="688" cy="1012" r="1.8"/><circle cx="694" cy="1012" r="1.8"/><circle cx="700" cy="1012" r="1.8"/><circle cx="712" cy="1012" r="1.8"/><circle cx="724" cy="1012" r="1.8"/><circle cx="736" cy="1012" r="1.8"/><circle cx="748" cy="1012" r="1.8"/><circle cx="755" cy="1012" r="1.8"/>
<circle cx="783" cy="1012" r="1.8"/><circle cx="795" cy="1012" r="1.8"/><circle cx="811" cy="1012" r="1.8"/><circle cx="829" cy="1012" r="1.8"/><circle cx="836" cy="1012" r="1.8"/>
</g>
<path class="w" d="M505,1012H577M593,1012H673M688,1012H759M783,1012H836" stroke-width="1"/>
<g class="s h">
<text transform="translate(507,975) rotate(-90)">G/Bl</text><text transform="translate(513,975) rotate(-90)">G/Bl</text><text transform="translate(526,975) rotate(-90)">G/Bl</text><text transform="translate(532,975) rotate(-90)">G/Bl</text><text transform="translate(539,975) rotate(-90)">G/Bl</text><text transform="translate(544,975) rotate(-90)">G/Bl</text>
<text transform="translate(595,975) rotate(-90)">O</text><text transform="translate(602,975) rotate(-90)">O</text><text transform="translate(608,975) rotate(-90)">O</text><text transform="translate(615,975) rotate(-90)">O</text><text transform="translate(622,975) rotate(-90)">Lb</text><text transform="translate(628,975) rotate(-90)">Lb</text><text transform="translate(635,975) rotate(-90)">Lb</text><text transform="translate(642,975) rotate(-90)">Lb</text><text transform="translate(648,975) rotate(-90)">O</text><text transform="translate(655,975) rotate(-90)">O</text><text transform="translate(662,975) rotate(-90)">O</text><text transform="translate(668,975) rotate(-90)">O</text><text transform="translate(675,975) rotate(-90)">O</text>
<text transform="translate(690,975) rotate(-90)">B/W</text><text transform="translate(696,975) rotate(-90)">B/W</text><text transform="translate(702,975) rotate(-90)">B/W</text><text transform="translate(708,975) rotate(-90)">B/W</text><text transform="translate(714,975) rotate(-90)">B/W</text><text transform="translate(720,975) rotate(-90)">B/W</text><text transform="translate(726,975) rotate(-90)">B/W</text><text transform="translate(732,975) rotate(-90)">B/W</text><text transform="translate(741,975) rotate(-90)">Bl/Br</text><text transform="translate(750,975) rotate(-90)">Bl/Br</text><text transform="translate(757,975) rotate(-90)">Bl/Br</text><text transform="translate(762,975) rotate(-90)">Bl/Br</text>
<text transform="translate(785,975) rotate(-90)">G/O</text><text transform="translate(791,975) rotate(-90)">G/O</text><text transform="translate(797,975) rotate(-90)">G/O</text><text transform="translate(807,975) rotate(-90)">P/G</text><text transform="translate(813,975) rotate(-90)">P/G</text><text transform="translate(819,975) rotate(-90)">P/G</text><text transform="translate(831,975) rotate(-90)">G/Y</text><text transform="translate(838,975) rotate(-90)">G/Y</text>
</g>

<!-- ================= FUEL PUMP / HORN / EVAP ================= -->
<g class="c">
<path d="M864,942H882M912,942H977V1079H864V942"/>
<rect x="882" y="935" width="30" height="13"/><path d="M892,935v4h10v-4"/>
<path d="M884,948V1000M889,948V1003M894,948V980H900V1003M900,948V975H922V1005"/>
<rect x="874" y="1003" width="25" height="27"/><path d="M879,1026l3,-18l3,18l3,-18l3,18M878,1022L896,1010"/>
<circle cx="922" cy="1018" r="13"/><ellipse cx="904" cy="1018" rx="5" ry="3"/>
<rect x="984" y="986" width="6" height="8"/><rect x="994" y="986" width="6" height="8"/>
<circle cx="993" cy="1009" r="12"/><circle cx="993" cy="1009" r="7"/><circle cx="993" cy="1009" r="1.5"/>
<rect x="1022" y="986" width="12" height="10"/><path d="M1025,986v4h6v-4"/>
<rect x="1016" y="996" width="27" height="20"/><rect x="1021" y="1016" width="17" height="23"/>
</g>
<text class="s" x="915" y="938">5P</text>
<text class="s" x="1036" y="990">2P</text><text class="s" x="1036" y="996">Bl</text>
<g class="s h">
<text transform="translate(886,928) rotate(-90)">G/Bl</text><text transform="translate(891,928) rotate(-90)">G/R</text><text transform="translate(896,928) rotate(-90)">Bl/Y</text><text transform="translate(902,928) rotate(-90)">Bl/Y</text>
<text transform="translate(886,972) rotate(-90)">R</text><text transform="translate(891,972) rotate(-90)">Bl</text><text transform="translate(896,972) rotate(-90)">R</text><text transform="translate(902,972) rotate(-90)">Bl</text>
<text transform="translate(989,975) rotate(-90)">Lg</text><text transform="translate(999,975) rotate(-90)">G</text>
<text transform="translate(1027,975) rotate(-90)">Bu/W</text><text transform="translate(1033,975) rotate(-90)">B/W</text>
</g>
<g class="t">
<text x="866" y="1048">ตัวตรวจจับ</text><text x="866" y="1063">ระดับน้ำมัน</text><text x="866" y="1077">เชื้อเพลิง</text>
<text x="915" y="1048">ปั๊มน้ำมัน</text><text x="915" y="1063">เชื้อเพลิง</text>
<text x="985" y="1032">แตร</text>
<text x="1004" y="1054">วาล์วโซลินอยด์</text><text x="1004" y="1069">ควบคุมการไหล</text><text x="1004" y="1084">ของไอน้ำมัน</text><text x="1004" y="1099">ระบบ EVAP</text>
</g>

<!-- ================= ENGINE SENSORS ================= -->
<g class="c">
<rect x="1107" y="973" width="26" height="13"/><path d="M1115,973v4h10v-4"/>
<circle cx="1120" cy="1005" r="15"/>
<rect x="1152" y="982" width="30" height="9"/><path d="M1161,982v3h10v-3"/>
<rect x="1150" y="991" width="33" height="56"/>
<rect x="1200" y="937" width="6" height="13"/>
<rect x="1197" y="983" width="13" height="25"/><path d="M1201,1004l2,-4l2,4l2,-4l2,4"/>
<path d="M1196,1022h14M1199,1026h8M1201,1030h4"/>
<rect x="1256" y="973" width="11" height="8"/><rect x="1252" y="981" width="19" height="44" rx="2"/><rect x="1256" y="1025" width="11" height="5"/>
<rect x="1293" y="982" width="18" height="9"/><path d="M1297,982v3h10v-3"/>
<rect x="1288" y="991" width="28" height="27"/><rect x="1293" y="1018" width="18" height="12"/>
<rect x="1335" y="980" width="11" height="5"/><path d="M1330,985H1348V1011H1344V1018H1334V1011H1330Z"/>
<path d="M1339,1018V1028M1336,1026l3,4l3,-4M1339,1036V1052M1336,1040l3,-4l3,4M1333,1052h12M1334,1052l-2,4M1339,1052l-2,4M1344,1052l-2,4"/>
<rect x="1395" y="982" width="18" height="9"/><path d="M1399,982v3h10v-3"/>
<rect x="1390" y="991" width="28" height="27"/><rect x="1395" y="1018" width="18" height="12"/>
</g>
<text class="s" x="1135" y="978">4P</text><text class="s" x="1135" y="984">Bl</text>
<text class="s" x="1185" y="987">5P</text><text class="s" x="1185" y="993">Bl</text>
<text class="s" x="1209" y="942">1P</text><text class="s" x="1209" y="948">Bl</text>
<text class="s" x="1270" y="977">2P</text><text class="s" x="1270" y="983">Bl</text>
<text class="s" x="1314" y="986">3P</text><text class="s" x="1314" y="992">Gr</text>
<text class="s" x="1416" y="986">3P</text><text class="s" x="1416" y="992">Bl</text>
<g style="font-size:5px"><text transform="translate(1157,1045) rotate(-90)">TPS PB VCC</text><text transform="translate(1163,1045) rotate(-90)">TPS VOUT</text><text transform="translate(1169,1045) rotate(-90)">PB VOUT</text><text transform="translate(1175,1045) rotate(-90)">TA VCC</text><text transform="translate(1181,1045) rotate(-90)">TPS PB TA GND</text></g>
<g class="s h">
<text transform="translate(1112,968) rotate(-90)">Lg/R</text><text transform="translate(1118,968) rotate(-90)">G/R</text><text transform="translate(1124,968) rotate(-90)">Bn/R</text><text transform="translate(1129,968) rotate(-90)">Bl/R</text>
<text transform="translate(1155,972) rotate(-90)">Y/O</text><text transform="translate(1161,972) rotate(-90)">Y/Bu</text><text transform="translate(1167,972) rotate(-90)">Y/R</text><text transform="translate(1173,972) rotate(-90)">W/G</text><text transform="translate(1179,972) rotate(-90)">G/O</text>
<text transform="translate(1205,932) rotate(-90)">B/O</text><text transform="translate(1205,972) rotate(-90)">B/O</text>
<text transform="translate(1259,968) rotate(-90)">P/Bu</text><text transform="translate(1264,968) rotate(-90)">Bl/W</text>
<text transform="translate(1297,972) rotate(-90)">G/Bu</text><text transform="translate(1302,972) rotate(-90)">P/W</text><text transform="translate(1308,972) rotate(-90)">G/O</text>
<text transform="translate(1340,972) rotate(-90)">Y/Bu</text><text transform="translate(1345,972) rotate(-90)">Bl/W</text>
<text transform="translate(1399,972) rotate(-90)">G/Bl</text><text transform="translate(1404,972) rotate(-90)">Bl/Br</text><text transform="translate(1410,972) rotate(-90)">P/G</text>
</g>
<g class="t">
<text x="1082" y="1039">ชุดวาล์วควบคุม</text><text x="1082" y="1053">อากาศรอบเดิน-</text><text x="1082" y="1068">เบา (IACV)</text>
<text x="1147" y="1068">ชุดตัวตรวจ</text><text x="1147" y="1083">จับสัญญาณ</text>
<text x="1192" y="1046">ลงกราวนด์</text><text x="1192" y="1062">ที่เครื่องยนต์</text>
<text x="1225" y="1078">ตัวตรวจจับ</text><text x="1225" y="1094">ปริมาณ</text><text x="1225" y="1109">ออกซิเจน</text><text x="1225" y="1124">(O2)</text>
<text x="1254" y="1052">หัวฉีด</text>
<text x="1283" y="1052">ตัวตรวจจับ</text><text x="1283" y="1066">อุณหภูมิน้ำ</text><text x="1283" y="1080">หล่อเย็นของ</text><text x="1283" y="1094">เครื่องยนต์</text><text x="1283" y="1109">(ECT)</text>
<text x="1351" y="993">คอยล์จุด</text><text x="1351" y="1008">ระเบิด</text><text x="1349" y="1037">หัวเทียน</text>
<text x="1387" y="1049">ตัวตรวจจับ</text><text x="1387" y="1064">ความเร็ว</text><text x="1387" y="1078">ของรถ</text><text x="1387" y="1093">(VS)</text>
</g>

<!-- ================= CKP / ALT / CHECK / 10P / GROUNDS ================= -->
<g class="c">
<rect x="1441" y="898" width="34" height="12"/><path d="M1452,898v4h10v-4"/>
<rect x="1438" y="979" width="43" height="44"/>
<rect x="1495" y="898" width="18" height="11"/><path d="M1499,898v4h10v-4"/>
<rect x="1487" y="979" width="37" height="44"/><circle cx="1505" cy="1006" r="17"/>
<path d="M1505,992v10l-8,6M1505,1002l8,6"/>
<rect x="1548" y="979" width="23" height="10"/><path d="M1555,979v4h8v-4"/>
<rect x="1542" y="976" width="34" height="24" stroke-dasharray="2,2" stroke-width="1"/>
<rect x="1589" y="895" width="11" height="14"/><path d="M1589,902h11M1591,897l2,4l2,-4M1596,907l2,-4l2,4"/>
<rect x="1588" y="977" width="18" height="44"/>
<rect x="1617" y="977" width="69" height="61"/><rect x="1621" y="977" width="61" height="11"/><path d="M1645,977v4h10v-4"/>
<circle cx="1711" cy="992" r="6"/><circle cx="1711" cy="992" r="2.5"/><path d="M1709,977L1711,986M1714,977L1711,986M1711,998V1004M1704,1004h14M1706,1007h10M1708,1010h6"/>
<circle cx="1730" cy="992" r="6"/><circle cx="1730" cy="992" r="2.5"/><path d="M1730,977V986M1730,998V1004M1723,1004h14M1725,1007h10M1727,1010h6"/>
<circle cx="1752" cy="992" r="6"/><circle cx="1752" cy="992" r="2.5"/><path d="M1752,977V986M1752,998V1004M1745,1004h14M1747,1007h10M1749,1010h6"/>
<circle cx="1794" cy="990" r="6"/><circle cx="1794" cy="990" r="2.5"/><path d="M1794,996V1002M1787,1002h14M1789,1005h10M1791,1008h6"/>
<circle cx="1815" cy="990" r="6"/><circle cx="1815" cy="990" r="2.5"/><path d="M1815,996V1002M1808,1002h14M1810,1005h10M1812,1008h6"/>
</g>
<text class="s" x="1478" y="901">6P</text><text class="s" x="1478" y="907">Bl</text>
<text class="s" x="1515" y="901">3P</text><text class="s" x="1515" y="907">Br</text>
<text class="s" x="1576" y="974">4P</text><text class="s" x="1576" y="980">R</text>
<text class="s" x="1689" y="979">10P</text><text class="s" x="1689" y="985">Bl</text>
<text class="s" x="1488" y="1025">W</text><text class="s" x="1520" y="1025">V</text><text class="s" x="1507" y="989">U</text>
<g style="font-size:5px">
<text transform="translate(1445,1020) rotate(-90)">GND</text><text transform="translate(1451,1020) rotate(-90)">VCC</text><text transform="translate(1457,1020) rotate(-90)">P</text><text transform="translate(1463,1020) rotate(-90)">W</text><text transform="translate(1469,1020) rotate(-90)">V</text><text transform="translate(1475,1020) rotate(-90)">U</text>
<text transform="translate(1624,1036) rotate(-90)">GND</text><text transform="translate(1630,1036) rotate(-90)">INSPECT</text><text transform="translate(1636,1036) rotate(-90)">LIGHT S</text><text transform="translate(1642,1036) rotate(-90)">LIGHT L</text><text transform="translate(1648,1036) rotate(-90)">IGN</text><text transform="translate(1654,1036) rotate(-90)">BUZZER 2</text><text transform="translate(1660,1036) rotate(-90)">BUZZER 1</text><text transform="translate(1666,1036) rotate(-90)">WINKER L</text><text transform="translate(1672,1036) rotate(-90)">WINKER R</text><text transform="translate(1678,1036) rotate(-90)">BATT</text>
</g>
<g class="s h">
<text transform="translate(1446,892) rotate(-90)">Bu/G</text><text transform="translate(1452,892) rotate(-90)">Bl/Bl</text><text transform="translate(1457,892) rotate(-90)">Bu/Y</text><text transform="translate(1463,892) rotate(-90)">W/Bl</text><text transform="translate(1468,892) rotate(-90)">W/Bu</text><text transform="translate(1474,892) rotate(-90)">W/R</text>
<text transform="translate(1446,972) rotate(-90)">G</text><text transform="translate(1452,972) rotate(-90)">Bl/Bl</text><text transform="translate(1457,972) rotate(-90)">Bu/Y</text><text transform="translate(1463,972) rotate(-90)">W/Bl</text><text transform="translate(1468,972) rotate(-90)">W/Bu</text><text transform="translate(1474,972) rotate(-90)">W/R</text>
<text transform="translate(1500,892) rotate(-90)">R/Bu</text><text transform="translate(1506,892) rotate(-90)">R/Y</text><text transform="translate(1511,892) rotate(-90)">R/W</text>
<text transform="translate(1500,972) rotate(-90)">R/Bu</text><text transform="translate(1506,972) rotate(-90)">R/Y</text><text transform="translate(1511,972) rotate(-90)">R/W</text>
<text transform="translate(1551,970) rotate(-90)">G/Bl</text><text transform="translate(1557,970) rotate(-90)">Gr</text><text transform="translate(1564,970) rotate(-90)">O/W</text><text transform="translate(1570,970) rotate(-90)">B/W</text>
<text transform="translate(1593,880) rotate(-90)">Bu</text><text transform="translate(1599,880) rotate(-90)">G/P</text>
<text transform="translate(1593,968) rotate(-90)">Bl</text><text transform="translate(1599,968) rotate(-90)">G</text>
<text transform="translate(1624,968) rotate(-90)">G</text><text transform="translate(1650,968) rotate(-90)">B/W</text><text transform="translate(1656,968) rotate(-90)">G/P</text><text transform="translate(1662,968) rotate(-90)">G/O</text><text transform="translate(1668,968) rotate(-90)">G</text><text transform="translate(1674,968) rotate(-90)">Lb</text><text transform="translate(1681,968) rotate(-90)">Lg/Bl</text>
<text transform="translate(1711,962) rotate(-90)">G</text><text transform="translate(1716,962) rotate(-90)">G</text><text transform="translate(1732,962) rotate(-90)">G</text><text transform="translate(1754,962) rotate(-90)">G</text>
<text transform="translate(1796,960) rotate(-90)">G</text><text transform="translate(1817,960) rotate(-90)">G</text>
</g>
<g class="t">
<text x="1433" y="1049">ตัวตรวจจับ</text><text x="1433" y="1064">ตำแหน่งเพลา</text><text x="1433" y="1078">ข้อเหวี่ยง</text><text x="1433" y="1093">(CKP)</text>
<text x="1491" y="1049">อัลเตอร์เนเตอร์/</text><text x="1491" y="1064">สตาร์ทเตอร์</text>
<text x="1534" y="1014">ขั้วตรวจสอบ</text>
<text x="1545" y="1080">ชุดส่งสัญญาณเสียงของระบบ</text><text x="1545" y="1094">กุญแจรีโมทค้นหาตำแหน่งรถ</text>
<text x="1618" y="1051">ชุดควบคุมโมดูล</text><text x="1618" y="1066">ตอบกลับ</text>
<text x="1711" y="1021">ลงกราวนด์</text><text x="1711" y="1035">ที่ตัวถัง</text>
<text x="1765" y="1021">ลงกราวนด์</text><text x="1765" y="1035">ที่ตัวถัง</text>
<text x="1811" y="1021">ลงกราวนด์</text><text x="1811" y="1035">ที่เครื่องยนต์</text>
</g>

<!-- ================= SWITCH TABLES ================= -->
<text class="tb" x="274" y="1117">การต่อขั้วสายของสวิทช์ :</text>
<g class="c" stroke-width="1.2">
<rect x="282" y="1162" width="84" height="68"/><path d="M282,1179H366M282,1196H366M282,1213H366M316,1162V1230M342,1162V1230M282,1179L316,1162"/>
<path d="M333,1204H350"/><circle cx="329" cy="1204" r="4" fill="#fff"/><circle cx="354" cy="1204" r="4" fill="#fff"/>
<rect x="375" y="1146" width="109" height="85"/><path d="M375,1163H484M375,1180H484M375,1197H484M375,1214H484M409,1146V1231M435,1146V1231M460,1146V1231M375,1163L409,1146"/>
<path d="M426,1171H444M452,1205H468"/><circle cx="422" cy="1171" r="4" fill="#fff"/><circle cx="448" cy="1171" r="4" fill="#fff"/><circle cx="448" cy="1205" r="4" fill="#fff"/><circle cx="472" cy="1205" r="4" fill="#fff"/>
<path d="M385,1167h5v-3l6,7l-6,7v-3h-5zM398,1201h-5v-3l-6,7l6,7v-3h5z" stroke-width="1"/>
<rect x="493" y="1147" width="110" height="86"/><path d="M493,1165H603M493,1182H603M493,1199H603M493,1216H603M527,1147V1233M553,1147V1233M577,1147V1233M493,1165L527,1147"/>
<path d="M544,1173H561M544,1190H586M544,1207H586"/><circle cx="540" cy="1173" r="4" fill="#fff"/><circle cx="565" cy="1173" r="4" fill="#fff"/><circle cx="540" cy="1190" r="4" fill="#fff"/><circle cx="565" cy="1190" r="4" fill="#fff"/><circle cx="590" cy="1190" r="4" fill="#fff"/><circle cx="540" cy="1207" r="4" fill="#fff"/><circle cx="590" cy="1207" r="4" fill="#fff"/>
<path d="M589,1233V1250H654V1234"/>
<rect x="611" y="1167" width="82" height="67"/><path d="M611,1184H693M611,1200H693M611,1217H693M646,1167V1234M668,1167V1234M611,1184L646,1167"/>
<path d="M661,1208H676"/><circle cx="657" cy="1208" r="4" fill="#fff"/><circle cx="680" cy="1208" r="4" fill="#fff"/>
<rect x="701" y="1167" width="84" height="68"/><path d="M701,1184H785M701,1201H785M701,1218H785M736,1167V1235M760,1167V1235M701,1184L736,1167"/>
<path d="M752,1209H769"/><circle cx="748" cy="1209" r="4" fill="#fff"/><circle cx="773" cy="1209" r="4" fill="#fff"/>
<rect x="794" y="1151" width="85" height="85"/><path d="M794,1168H879M794,1185H879M794,1202H879M794,1219H879M829,1151V1236M854,1151V1236M794,1168L829,1151"/>
<path d="M845,1176H862"/><circle cx="841" cy="1176" r="4" fill="#fff"/><circle cx="866" cy="1176" r="4" fill="#fff"/>
<rect x="890" y="1171" width="108" height="67"/><path d="M890,1188H998M890,1205H998M890,1221H998M949,1171V1238M973,1171V1238M890,1188L949,1171"/>
<path d="M965,1213H982"/><circle cx="961" cy="1213" r="4" fill="#fff"/><circle cx="986" cy="1213" r="4" fill="#fff"/>
</g>
<g class="n">
<text x="324" y="1156" text-anchor="middle">สวิทช์สตาร์ท</text>
<text x="329" y="1175" text-anchor="middle">ST1</text><text x="354" y="1175" text-anchor="middle">ST2</text>
<text x="299" y="1192" text-anchor="middle">FREE</text><text x="299" y="1209" text-anchor="middle">PUSH</text><text x="299" y="1226" text-anchor="middle">COLOR</text>
<text x="329" y="1226" text-anchor="middle">Bl/W</text><text x="354" y="1226" text-anchor="middle">Y/G</text>
<text x="432" y="1140" text-anchor="middle">สวิทช์ไฟเลี้ยว</text>
<text x="422" y="1159" text-anchor="middle">R</text><text x="448" y="1159" text-anchor="middle">W</text><text x="472" y="1159" text-anchor="middle">L</text>
<text x="392" y="1193" text-anchor="middle">N</text><text x="392" y="1227" text-anchor="middle">COLOR</text>
<text x="422" y="1227" text-anchor="middle">Lb</text><text x="448" y="1227" text-anchor="middle">Gr</text><text x="472" y="1227" text-anchor="middle">O</text>
<text x="549" y="1141" text-anchor="middle">สวิทช์ไฟสูง-ต่ำ</text>
<text x="540" y="1160" text-anchor="middle">HL</text><text x="565" y="1160" text-anchor="middle">Lo</text><text x="590" y="1160" text-anchor="middle">Hi</text>
<text x="510" y="1177" text-anchor="middle">≣D</text><text x="510" y="1194" text-anchor="middle">(N)</text><text x="510" y="1211" text-anchor="middle">≣D</text>
<text x="510" y="1229" text-anchor="middle">COLOR</text><text x="540" y="1229" text-anchor="middle">Bl/R</text><text x="565" y="1229" text-anchor="middle">W</text><text x="590" y="1229" text-anchor="middle">Bu</text>
<text x="652" y="1161" text-anchor="middle">สวิทช์ไฟขอทาง</text>
<text x="657" y="1180" text-anchor="middle">Hi</text><text x="680" y="1180" text-anchor="middle">BAT</text>
<text x="628" y="1196" text-anchor="middle">FREE</text><text x="628" y="1212" text-anchor="middle">PUSH</text><text x="628" y="1229" text-anchor="middle">COLOR</text>
<text x="657" y="1229" text-anchor="middle">Bu</text><text x="680" y="1229" text-anchor="middle">Bl/R</text>
<text x="743" y="1161" text-anchor="middle">สวิทช์แตร</text>
<text x="748" y="1180" text-anchor="middle">HO</text><text x="773" y="1180" text-anchor="middle">BAT</text>
<text x="718" y="1197" text-anchor="middle">FREE</text><text x="718" y="1213" text-anchor="middle">PUSH</text><text x="718" y="1230" text-anchor="middle">COLOR</text>
<text x="748" y="1230" text-anchor="middle">Lg</text><text x="773" y="1230" text-anchor="middle">Bl/Br</text>
<text x="836" y="1145" text-anchor="middle">สวิทช์จุดระเบิด</text>
<text x="841" y="1164" text-anchor="middle">BAT1</text><text x="866" y="1164" text-anchor="middle">BAT2</text>
<text x="811" y="1180" text-anchor="middle">ON</text><text x="811" y="1197" text-anchor="middle">OFF</text><text x="811" y="1214" text-anchor="middle">LOCK</text><text x="811" y="1231" text-anchor="middle">COLOR</text>
<text x="841" y="1231" text-anchor="middle">R/Bl</text><text x="866" y="1231" text-anchor="middle">R/G</text>
<text x="891" y="1164">สวิทช์หยุดการทำงานของเครื่องยนต์ในรอบเดินเบา</text>
<text x="961" y="1184" text-anchor="middle">IDS+</text><text x="986" y="1184" text-anchor="middle">IDS-</text>
<text x="919" y="1200" text-anchor="middle">IDLING STOP</text><text x="919" y="1217" text-anchor="middle">IDLING</text><text x="919" y="1233" text-anchor="middle">COLOR</text>
<text x="961" y="1233" text-anchor="middle">Bl/G</text><text x="986" y="1233" text-anchor="middle">G/Bl</text>
</g>

<!-- ================= COLOR CODE ================= -->
<text class="tb" x="1634" y="1127">รหัสสีของสายไฟ :</text>
<g class="c" stroke-width="1.2">
<rect x="1637" y="1133" width="239" height="102"/>
<path d="M1637,1150H1876M1637,1167H1876M1637,1184H1876M1637,1201H1876M1637,1218H1876M1665,1133V1235M1756,1133V1235M1759,1133V1235M1786,1133V1235"/>
</g>
<g class="t">
<text x="1643" y="1146">Bl</text><text x="1671" y="1146">สีดำ</text><text x="1765" y="1146">Br</text><text x="1792" y="1146">สีน้ำตาล</text>
<text x="1643" y="1163">Y</text><text x="1671" y="1163">สีเหลือง</text><text x="1765" y="1163">O</text><text x="1792" y="1163">สีส้ม</text>
<text x="1643" y="1180">Bu</text><text x="1671" y="1180">สีน้ำเงิน</text><text x="1765" y="1180">Lb</text><text x="1792" y="1180">สีฟ้า</text>
<text x="1643" y="1197">G</text><text x="1671" y="1197">สีเขียว</text><text x="1765" y="1197">Lg</text><text x="1792" y="1197">สีเขียวอ่อน</text>
<text x="1643" y="1214">R</text><text x="1671" y="1214">สีแดง</text><text x="1765" y="1214">P</text><text x="1792" y="1214">สีชมพู</text>
<text x="1643" y="1231">W</text><text x="1671" y="1231">สีขาว</text><text x="1765" y="1231">Gr</text><text x="1792" y="1231">สีเทา</text>
</g>
</svg>
</body></html>
